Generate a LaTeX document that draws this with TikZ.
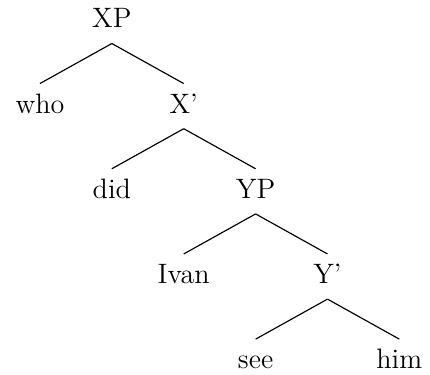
\documentclass[tikz,border=0pt]{standalone}
\usepackage{tikz}

\tikzset{
	word/.style={anchor=base, font=\large, inner xsep=0pt, inner ysep=4pt, text height=8.4pt, text depth=2.4pt}
}

\begin{document}
\begin{tikzpicture}[x=1.08cm, y=1.28cm, line width=0.5pt]

		\useasboundingbox (-0.60cm, 0.42cm) rectangle (5.86cm, -5.21cm);

		% Level 0: root
		\node[word] (XP) at (1, 0) {XP};

		% Level 1
		\node[word] (who) at (0, -1) {who};
		\node[word] (Xbar) at (2, -1) {X'};

		% Level 2
		\node[word] (did) at (1, -2) {did};
		\node[word] (YP) at (3, -2) {YP};

		% Level 3
		\node[word] (Ivan) at (2, -3) {Ivan};
		\node[word] (Ybar) at (4, -3) {Y'};

		% Level 4: leaves
		\node[word] (see) at (3, -4) {see};
		\node[word] (him) at (5, -4) {him};

		% --- Branches ---
		\draw (XP.south) -- (who.north);
		\draw (XP.south) -- (Xbar.north);

		\draw (Xbar.south) -- (did.north);
		\draw (Xbar.south) -- (YP.north);

		\draw (YP.south) -- (Ivan.north);
		\draw (YP.south) -- (Ybar.north);

		\draw (Ybar.south) -- (see.north);
		\draw (Ybar.south) -- (him.north);

	\end{tikzpicture}
\end{document}
